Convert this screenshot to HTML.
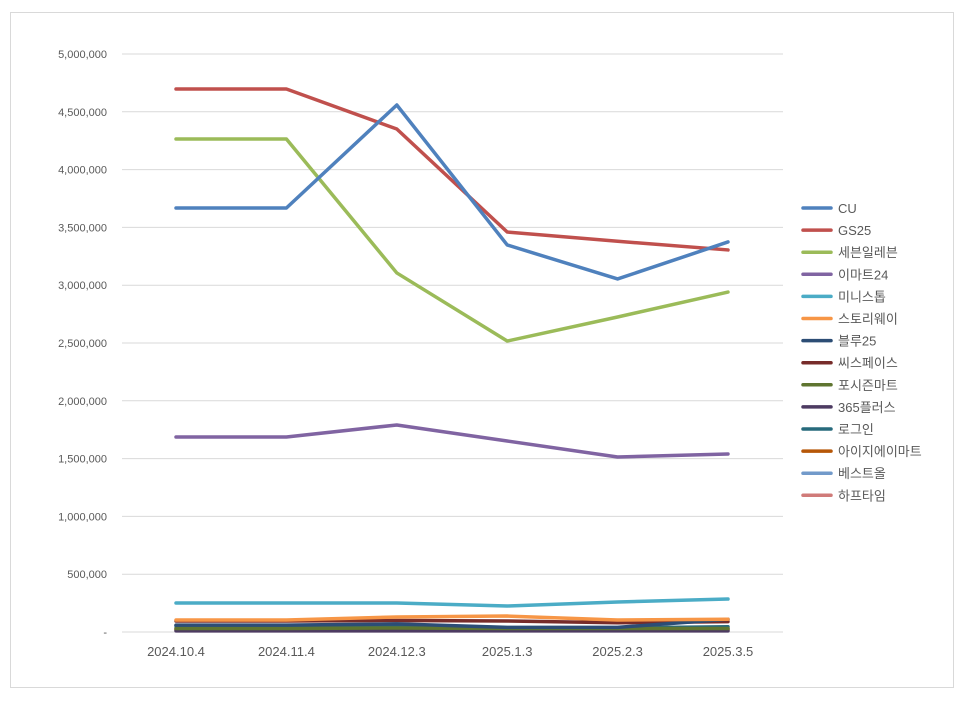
<!DOCTYPE html>
<html><head><meta charset="utf-8"><style>
body{margin:0;background:#fff;font-family:"Liberation Sans","Noto Sans CJK KR",sans-serif;}
#frame{position:absolute;left:10px;top:12px;width:944px;height:676px;border:1px solid #d9d9d9;box-sizing:border-box;}
</style></head><body>
<div id="frame"></div>
<svg id="c" width="966" height="702" style="position:absolute;left:0;top:0"></svg>
<script>
const categories=["2024.10.4","2024.11.4","2024.12.3","2025.1.3","2025.2.3","2025.3.5"];
const tickValues=[0,500000,1000000,1500000,2000000,2500000,3000000,3500000,4000000,4500000,5000000];
const tickLabels=["-","500,000","1,000,000","1,500,000","2,000,000","2,500,000","3,000,000","3,500,000","4,000,000","4,500,000","5,000,000"];
const seriesNames=["CU","GS25","세븐일레븐","이마트24","미니스톱","스토리웨이","블루25","씨스페이스","포시즌마트","365플러스","로그인","아이지에이마트","베스트올","하프타임"];
const seriesColors=["#4f81bd","#c0504d","#9bbb59","#8064a2","#4bacc6","#f79646","#2c4d75","#772c2a","#5f7530","#4d3b62","#276a7c","#b65708","#729aca","#d07b79"];
const sCU=[3668000,3668000,4559000,3348000,3054000,3374000];
const sGS=[4697000,4697000,4351000,3460000,3380000,3305000];
const s711=[4265000,4265000,3106000,2517000,2725000,2941000];
const sE24=[1687000,1687000,1791000,1652000,1514000,1540000];
const sMini=[251000,251000,251000,225000,260000,285000];
const sStory=[104000,104000,130000,138000,104000,110000];
const sBlue=[60000,60000,70000,40000,40000,110000];
const sSpace=[95000,95000,100000,95000,80000,90000];
const sFour=[30000,30000,35000,30000,30000,30000];
const s365=[10000,10000,10000,10000,10000,10000];
const sLogin=[55000,55000,60000,35000,35000,45000];
const sIG=[20000,20000,20000,20000,20000,20000];
const sBest=[40000,40000,40000,30000,30000,30000];
const sHalf=[25000,25000,25000,25000,25000,25000];
const allSeries=[sCU,sGS,s711,sE24,sMini,sStory,sBlue,sSpace,sFour,s365,sLogin,sIG,sBest,sHalf];
const NS="http://www.w3.org/2000/svg",svg=document.getElementById('c');
const y=v=>632-v/5000000*578;
const x=i=>176+i*110.4;
function mk(t,a){const e=document.createElementNS(NS,t);for(const k in a)e.setAttribute(k,a[k]);svg.appendChild(e);return e;}
tickValues.forEach((v,i)=>{
 const g=mk('line',{x1:122,x2:783,y1:y(v),y2:y(v),stroke:'#d9d9d9','stroke-width':1});
 
 
 const t=mk('text',{x:107,y:y(v)+4,'text-anchor':'end','font-size':11,fill:'#595959'});
 t.textContent=tickLabels[i];
 
 
});
categories.forEach((c,i)=>{
 const t=mk('text',{x:x(i),y:656,'text-anchor':'middle','font-size':13,fill:'#595959'});
 t.textContent=c;
 
 
});
for(let s=allSeries.length-1;s>=0;s--){
 const d=allSeries[s].map((v,i)=>(i?'L':'M')+x(i)+','+y(v)).join(' ');
 const p=mk('path',{d:d,fill:'none',stroke:seriesColors[s],'stroke-width':3.5,'stroke-linejoin':'round','stroke-linecap':'round'});
 
 
}
seriesNames.forEach((n,i)=>{
 const ly=208+i*22.1;
 const l=mk('line',{x1:803,x2:831,y1:ly,y2:ly,stroke:seriesColors[i],'stroke-width':3.5,'stroke-linecap':'round'});
 
 
 const t=mk('text',{x:838,y:ly+5,'font-size':13,fill:'#595959'});
 t.textContent=n;
 
 
});
</script>
</body></html>
